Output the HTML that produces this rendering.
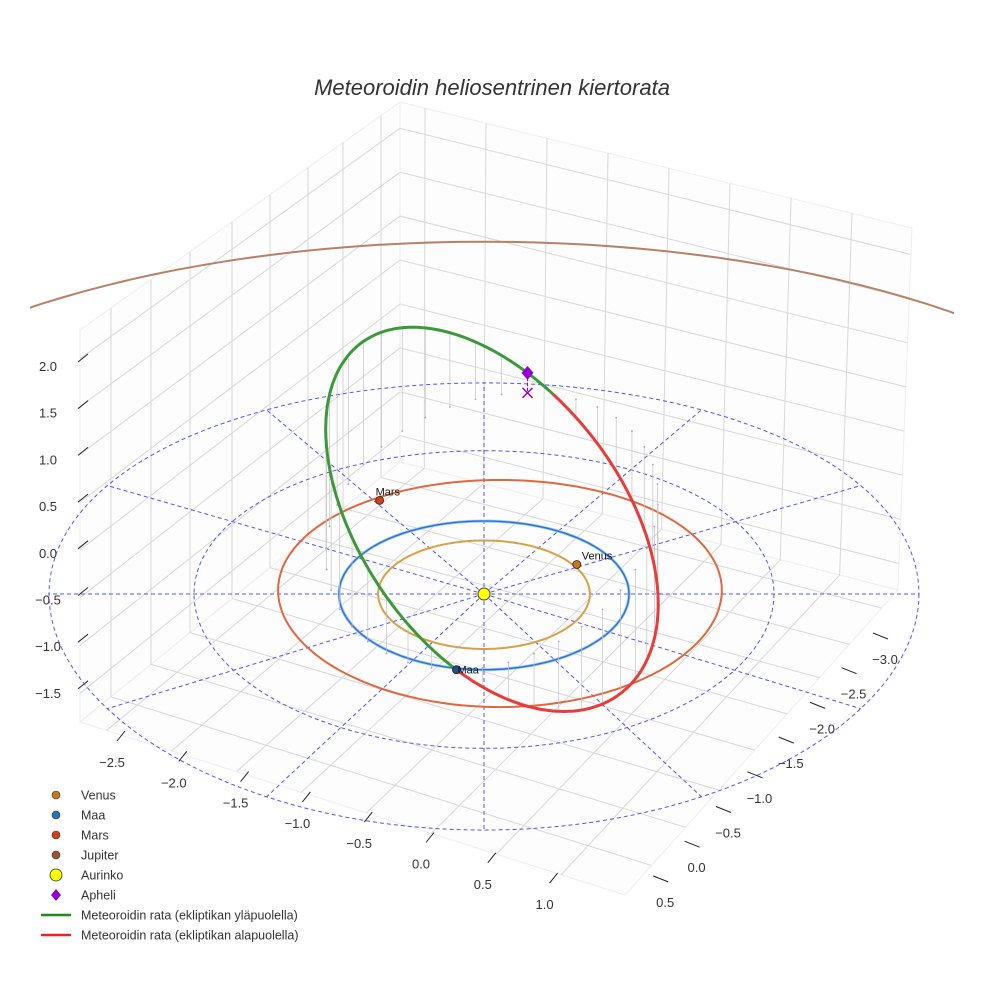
<!DOCTYPE html>
<html><head><meta charset="utf-8"><style>
html,body{margin:0;padding:0;background:#fff}
svg{display:block;font-family:"Liberation Sans",sans-serif}
</style></head><body>
<svg id="chart" width="984" height="984" viewBox="0 0 984 984" xmlns="http://www.w3.org/2000/svg">
<rect width="984" height="984" fill="#fff"/>
<text x="492" y="95" text-anchor="middle" font-size="22" font-style="italic" fill="#333">Meteoroidin heliosentrinen kiertorata</text>
<defs><clipPath id="clip"><rect x="30" y="0" width="924" height="955"/></clipPath></defs>
<g id="panes"></g>
<g id="ticks"></g>
<g id="plot" clip-path="url(#clip)"></g>
<g id="legend"></g>
</svg>
<script>
// ---- data ----
const zTicks = ["2.0","1.5","1.0","0.5","0.0","\u22120.5","\u22121.0","\u22121.5"];
const xTicks = ["\u22122.5","\u22122.0","\u22121.5","\u22121.0","\u22120.5","0.0","0.5","1.0"];
const yTicks = ["\u22123.0","\u22122.5","\u22122.0","\u22121.5","\u22121.0","\u22120.5","0.0","0.5"];
const eclipticRings = [2, 3];
const eclipticSpokeAngles = [0,30,60,90,120,150,180,210,240,270,300,330];
const planetNames = ["Venus","Maa","Mars","Jupiter"];
const orbitRadii = [0.73, 1.0, 1.53, 5.2];
const orbitCenterX = [0, 0, 0.11, 0];
const orbitCenterV = [0, 0, -0.05, 0];
const planetPosX = [0.64, -0.19, -0.72, null];
const planetPosV = [-0.40, 1.0, -1.29, null];
const aphelion = [0.3, -2.85, 0.2];
const perihelion = [-0.19, 1.0, 0];
const minorAxis = [-1.12, 0.0, 1.22];
const legendLabels = ["Venus","Maa","Mars","Jupiter","Aurinko","Apheli","Meteoroidin rata (ekliptikan yläpuolella)","Meteoroidin rata (ekliptikan alapuolella)"];

const NS="http://www.w3.org/2000/svg";
function mk(tag, attrs, parent){const e=document.createElementNS(NS,tag);for(const k in attrs)e.setAttribute(k,attrs[k]);parent.appendChild(e);return e;}
function P(X,V,Z){return [484+145*X, 594+74.3*V/(1-0.0186*V)-100*Z];}
function pts(a){return a.map(p=>p[0].toFixed(1)+","+p[1].toFixed(1)).join(" ");}
function lerp(a,b,t){return [a[0]+(b[0]-a[0])*t,a[1]+(b[1]-a[1])*t];}

// ---- panes ----
const panes=document.getElementById('panes');
const TL=[80,330],TB=[400,102],BB=[400,462],BL=[80,722],TR=[912,228],BR=[898,590],FR=[625,895];
const leftU=[19,57,92,130,168,210,249,289].map(v=>v/320);
const rightU=[25,86,147,208,269,330,391,452].map(v=>v/512);
const zLevels=[2.0,1.5,1.0,0.5,0,-0.5,-1.0,-1.5].map(z=>(2.3-z)/4.1);
const gc="#d8d8d8";
let e;
e=mk('polygon',{points:pts([TL,TB,BB,BL]),fill:"#fdfdfd",stroke:"#eee"},panes);


e=mk('polygon',{points:pts([TB,TR,BR,BB]),fill:"#fdfdfd",stroke:"#eee"},panes);


e=mk('polygon',{points:pts([BB,BR,FR,BL]),fill:"#fdfdfd",stroke:"#eee"},panes);


leftU.forEach(u=>{const a=lerp(TB,TL,u),b=lerp(BB,BL,u);e=mk('line',{x1:a[0],y1:a[1],x2:b[0],y2:b[1],stroke:gc},panes);


const c=lerp(BB,BL,u),d=lerp(BR,FR,u);e=mk('line',{x1:c[0],y1:c[1],x2:d[0],y2:d[1],stroke:gc},panes);

});
rightU.forEach(u=>{const a=lerp(TB,TR,u),b=lerp(BB,BR,u);e=mk('line',{x1:a[0],y1:a[1],x2:b[0],y2:b[1],stroke:gc},panes);


const c=lerp(BB,BR,u),d=lerp(BL,FR,u);e=mk('line',{x1:c[0],y1:c[1],x2:d[0],y2:d[1],stroke:gc},panes);

});
zLevels.forEach(t=>{const a=lerp(TL,BL,t),b=lerp(TB,BB,t),c=lerp(TR,BR,t);e=mk('polyline',{points:pts([a,b,c]),fill:"none",stroke:gc},panes);

});

// ---- ticks ----
const tg=document.getElementById('ticks');
zTicks.forEach((s,i)=>{const y=366+i*46.7;
e=mk('line',{x1:78,y1:y-4,x2:88,y2:y-12,stroke:"#222"},tg);


e=mk('text',{x:48,y:y+5,'font-size':13,'text-anchor':'middle',fill:"#333"},tg);e.textContent=s;

});
xTicks.forEach((s,i)=>{const x=112+i*61.8,y=762+i*20.3;
e=mk('line',{x1:x+5,y1:y-21,x2:x+13,y2:y-31,stroke:"#222"},tg);


e=mk('text',{x:x,y:y+5,'font-size':13,'text-anchor':'middle',fill:"#333"},tg);e.textContent=s;

});
yTicks.forEach((s,i)=>{const x=885-i*31.4,y=659+i*34.7;
e=mk('line',{x1:x-12,y1:y-26,x2:x+3,y2:y-20,stroke:"#222"},tg);


e=mk('text',{x:x,y:y+5,'font-size':13,'text-anchor':'middle',fill:"#333"},tg);e.textContent=s;

});

// ---- plot ----
const pg=document.getElementById('plot');
function circle(r,cx,cv,t0,t1){const a=[];for(let t=(t0||0);t<=(t1||360);t+=2){const th=t*Math.PI/180;a.push(P(cx+r*Math.cos(th),cv+r*Math.sin(th),0));}return a;}
eclipticRings.forEach(r=>{e=mk('polyline',{points:pts(circle(r,0,0)),fill:"none",stroke:"#5555ee",'stroke-width':1,'stroke-dasharray':"4,3"},pg);

});
eclipticSpokeAngles.forEach(d=>{const th=d*Math.PI/180;const a=P(0,0,0),b=P(3*Math.cos(th),3*Math.sin(th),0);
e=mk('line',{x1:a[0],y1:a[1],x2:b[0],y2:b[1],stroke:"#5555ee",'stroke-width':1,'stroke-dasharray':"4,3"},pg);

});
const orbitColors=["#d9a048","#2a72d2","#e0683f","#b98068"];
orbitRadii.forEach((r,i)=>{
 const path = i===3 ? circle(r,orbitCenterX[i],orbitCenterV[i],180,360) : circle(r,orbitCenterX[i],orbitCenterV[i]);
 if(i===1){e=mk('polyline',{points:pts(path),fill:"none",stroke:"#9cc8f0",'stroke-width':3},pg);
 
 }
 e=mk('polyline',{points:pts(path),fill:"none",stroke:orbitColors[i],'stroke-width':i===1?1.4:2},pg);
 
 
});
// meteoroid orbit
const C=[0,1,2].map(k=>(aphelion[k]+perihelion[k])/2);
const U=[0,1,2].map(k=>aphelion[k]-C[k]);
const orb=[];for(let t=0;t<=360;t+=1){const th=t*Math.PI/180;orb.push([0,1,2].map(k=>C[k]+U[k]*Math.cos(th)+minorAxis[k]*Math.sin(th)));}
// drop lines
orb.forEach((p,i)=>{if(i%9!==0)return;const a=P(p[0],p[1],p[2]),b=P(p[0],p[1],0);
 e=mk('line',{x1:a[0],y1:a[1],x2:b[0],y2:b[1],stroke:"#c4c4c4",'stroke-width':0.7},pg);
 
 
 e=mk('circle',{cx:b[0],cy:b[1],r:0.9,fill:"#aaa"},pg);
 
 });
let seg=[],sign=null;
function flush(){if(seg.length>1){e=mk('polyline',{points:pts(seg),fill:"none",stroke:sign?"#3a9a3a":"#ea3a3a",'stroke-width':3},pg);

}}
orb.forEach(p=>{const s=p[2]>=0;const q=P(p[0],p[1],p[2]);if(sign===null)sign=s;if(s!==sign){seg.push(q);flush();seg=[q];sign=s;}else seg.push(q);});
flush();
// aphelion marker
const ap=P(aphelion[0],aphelion[1],aphelion[2]),ap0=P(aphelion[0],aphelion[1],0);
e=mk('line',{x1:ap[0],y1:ap[1],x2:ap0[0],y2:ap0[1],stroke:"#9400d3",'stroke-dasharray':"3,2"},pg);


e=mk('polygon',{points:pts([[ap[0],ap[1]-7],[ap[0]+6,ap[1]],[ap[0],ap[1]+7],[ap[0]-6,ap[1]]]),fill:"#9400d3"},pg);


e=mk('path',{d:`M${ap0[0]-5},${ap0[1]-5}L${ap0[0]+5},${ap0[1]+5}M${ap0[0]+5},${ap0[1]-5}L${ap0[0]-5},${ap0[1]+5}`,stroke:"#9400d3",'stroke-width':1.5},pg);


// sun
const s0=P(0,0,0);
e=mk('circle',{cx:s0[0],cy:s0[1],r:6,fill:"#ffff00",stroke:"#444"},pg);


// planets
const ptColors=["#c87818","#1f4f8f","#d04010",""];
planetNames.forEach((n,i)=>{if(planetPosX[i]===null)return;const q=P(planetPosX[i],planetPosV[i],0);
 e=mk('circle',{cx:q[0],cy:q[1],r:4,fill:ptColors[i],stroke:"#222",'stroke-width':0.8},pg);
 
 
 e=mk('text',{x:q[0]+(i===2?-4:i===1?1:5),y:q[1]+(i===1?4:-5),'font-size':11,fill:"#111"},pg);e.textContent=n;
 
 });

// ---- legend ----
const lg=document.getElementById('legend');
const legColors=["#c87818","#1f77b4","#d04010","#a0522d","#ffff00","#9400d3","#1a8a1a","#ee2222"];
legendLabels.forEach((s,i)=>{const y=795+i*20;const x=56;
 if(i<4){e=mk('circle',{cx:x,cy:y,r:4,fill:legColors[i],stroke:"#333",'stroke-width':0.6},lg);}
 else if(i===4){e=mk('circle',{cx:x,cy:y,r:6,fill:legColors[i],stroke:"#333",'stroke-width':0.8},lg);}
 else if(i===5){e=mk('polygon',{points:pts([[x,y-6],[x+5,y],[x,y+6],[x-5,y]]),fill:legColors[i]},lg);}
 else {e=mk('line',{x1:41,y1:y,x2:71,y2:y,stroke:legColors[i],'stroke-width':2.5},lg);}
 
 
 e=mk('text',{x:81,y:y+4.5,'font-size':12.5,fill:"#333"},lg);e.textContent=s;
 
 
});
</script>
</body></html>
